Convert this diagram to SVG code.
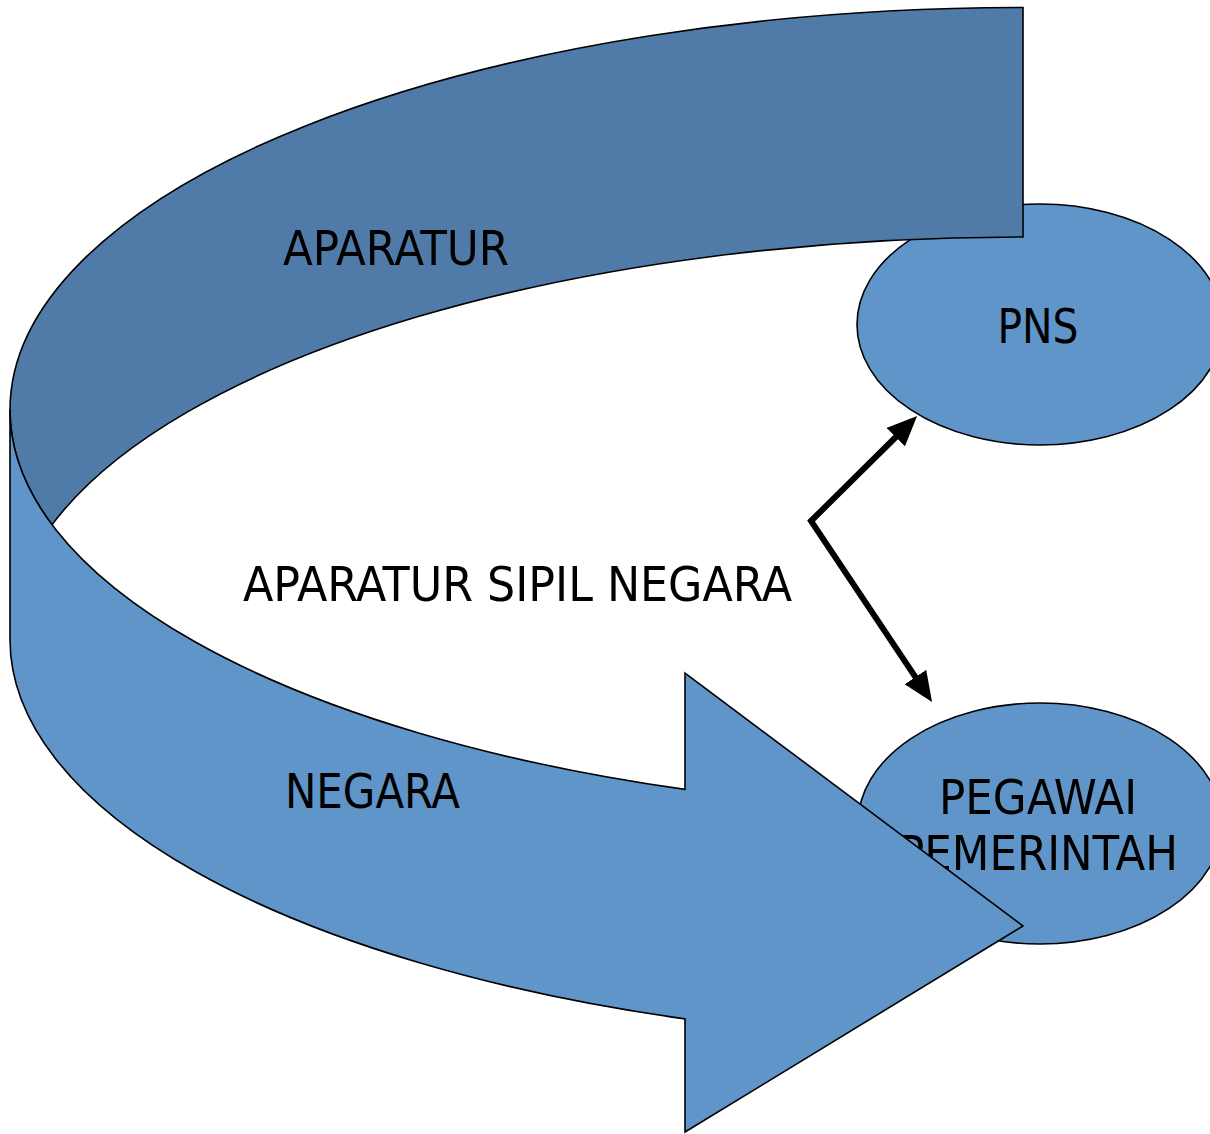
<svg xmlns="http://www.w3.org/2000/svg" width="1210" height="1134" viewBox="0 0 1210 1134">
  <defs>
    <style>
      .bubble { fill: #6095C9; stroke: #000; stroke-width: 1.6; }
      .band-dark { fill: #507BA8; stroke: #000; stroke-width: 1.6; stroke-linejoin: miter; }
      .band-light { fill: #6095C9; stroke: #000; stroke-width: 1.6; stroke-linejoin: miter; }
      .label { font-family: "DejaVu Sans Condensed", "DejaVu Sans", sans-serif; font-size: 48px; fill: #000; }
      .mid { text-anchor: middle; }
      .link { fill: none; stroke: #000; stroke-width: 6; stroke-linejoin: miter; }
    </style>
    <marker id="head" markerUnits="userSpaceOnUse" markerWidth="30" markerHeight="26" refX="20" refY="13" orient="auto-start-reverse" viewBox="0 0 30 26">
      <path d="M0,0 L30,13 L0,26 z" fill="#000"/>
    </marker>
  </defs>

  <rect width="1210" height="1134" fill="#fff"/>

  <!-- ellipse nodes (drawn beneath the curved arrow) -->
  <g id="node-pns">
    <ellipse class="bubble" cx="1040" cy="324.5" rx="183" ry="120.5"/>
    <text class="label mid" x="1038" y="343" textLength="81" lengthAdjust="spacingAndGlyphs">PNS</text>
  </g>
  <g id="node-pegawai">
    <ellipse class="bubble" cx="1040" cy="823.5" rx="182" ry="120.5"/>
    <text class="label mid" x="1038" y="814" textLength="198" lengthAdjust="spacingAndGlyphs">PEGAWAI</text>
    <text class="label mid" x="1038" y="870" textLength="280" lengthAdjust="spacingAndGlyphs">PEMERINTAH</text>
  </g>

  <!-- curved arrow built from two stacked ellipses (rx 1013, ry 402.5) -->
  <g id="curved-arrow">
    <!-- upper band -->
    <path class="band-dark" d="M1023,7.5 A1013,402.5 0 0 0 10,410 A1013,402.5 0 0 0 52,524.75 A1013,402.5 0 0 1 1023,237 Z"/>
    <!-- lower band with arrowhead -->
    <path class="band-light" d="M10,410 L10,639.5 A1013,402.5 0 0 0 685,1018.9 L685,1132 L1023,926 L685,673 L685,789.4 A1013,402.5 0 0 1 10,410 Z"/>
  </g>

  <g id="labels">
    <text class="label" x="283" y="265" textLength="226" lengthAdjust="spacingAndGlyphs">APARATUR</text>
    <text class="label" x="285" y="808" textLength="175" lengthAdjust="spacingAndGlyphs">NEGARA</text>
    <text class="label" x="243" y="601" textLength="549" lengthAdjust="spacingAndGlyphs">APARATUR SIPIL NEGARA</text>
  </g>

  <g id="connectors">
    <path class="link" d="M910,423 L811,521 L926.5,693.7" marker-start="url(#head)" marker-end="url(#head)"/>
  </g>
</svg>
